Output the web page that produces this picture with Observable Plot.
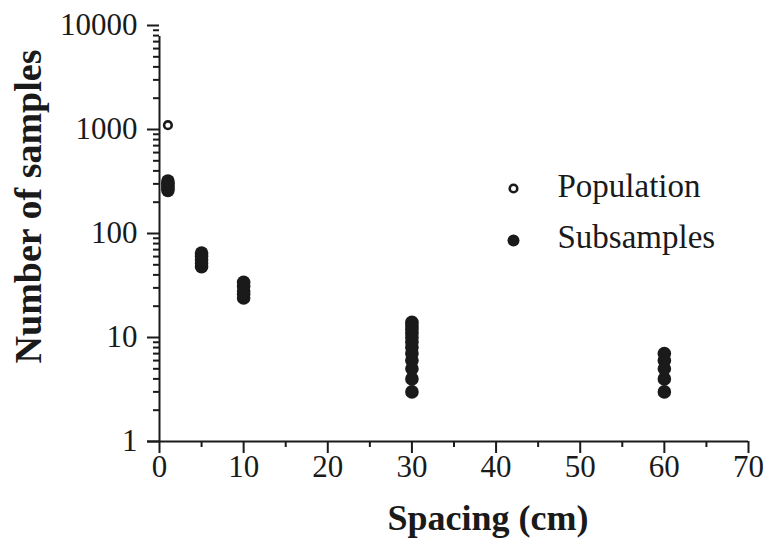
<!DOCTYPE html>
<html>
<head>
<meta charset="utf-8">
<script src="https://cdn.jsdelivr.net/npm/d3@7"></script>
<script src="https://cdn.jsdelivr.net/npm/@observablehq/plot@0.6"></script>
<style>
  html, body { margin: 0; padding: 0; background: #fff; }
  #chart { width: 780px; height: 542px; }
</style>
</head>
<body>
<div id="chart"></div>
<script>
// ---- data ----
const popSpacing = [1];
const popCount = [1100];

const subSpacing = [
  1, 1, 1, 1, 1,
  5, 5, 5, 5, 5,
  10, 10, 10, 10, 10,
  30, 30, 30, 30, 30, 30, 30, 30, 30, 30, 30, 30,
  60, 60, 60, 60, 60
];
const subCount = [
  260, 275, 290, 305, 320,
  48, 52, 56, 60, 65,
  24, 26, 28, 31, 34,
  3, 4, 5, 6, 7, 8, 9, 10, 11, 12, 13, 14,
  3, 4, 5, 6, 7
];

const xTicks = [0, 10, 20, 30, 40, 50, 60, 70];
const xMinorTicks = [5, 15, 25, 35, 45, 55, 65];
const yTicks = [1, 10, 100, 1000, 10000];
const yMinorTicks = [];
for (const d of [1, 10, 100, 1000]) for (let k = 2; k <= 9; k++) yMinorTicks.push(d * k);

const xLabel = "Spacing (cm)";
const yLabel = "Number of samples";
const legendLabels = ["Population", "Subsamples"];

// ---- build tables ----
const population = popSpacing.map((s, i) => ({spacing: s, count: popCount[i]}));
const subsamples = subSpacing.map((s, i) => ({spacing: s, count: subCount[i]}));

const ink = "#1a1a1a";
const serif = "'Liberation Serif', 'Times New Roman', serif";

const chart = Plot.plot({
  width: 780,
  height: 542,
  marginLeft: 159,
  marginRight: 32,
  marginTop: 25,
  marginBottom: 101,
  style: {fontFamily: serif, fontSize: "31px", color: ink, background: "#fff"},
  x: {domain: [0, 70]},
  y: {type: "log", domain: [1, 10000]},
  marks: [
    // axis lines (crossing slightly past each other)
    Plot.ruleY([1], {x1: 0, x2: 70, insetLeft: -12, stroke: ink, strokeWidth: 2}),
    Plot.ruleX([0], {y1: 1, y2: 10000, insetBottom: -11, stroke: ink, strokeWidth: 2}),
    // x axis
    Plot.axisX(xTicks, {tickSize: 12, tickPadding: 1, strokeWidth: 2, stroke: ink, fill: ink,
      label: null, fontSize: 31, fontFamily: serif, tickFormat: d => String(d)}),
    Plot.axisX(xMinorTicks, {tickSize: 6, strokeWidth: 2, stroke: ink, text: null, label: null}),
    // y axis
    Plot.axisY(yTicks, {tickSize: 12, tickPadding: 10, strokeWidth: 2, stroke: ink, fill: ink,
      label: null, fontSize: 31, fontFamily: serif, tickFormat: d => String(d)}),
    Plot.axisY(yMinorTicks, {tickSize: 6, strokeWidth: 2, stroke: ink, text: null, label: null}),
    // data
    Plot.dot(subsamples, {x: "spacing", y: "count", r: 6.8, fill: ink, stroke: "none"}),
    Plot.dot(population, {x: "spacing", y: "count", r: 3.8, fill: "#fff", stroke: ink, strokeWidth: 2.6}),
    // legend
    Plot.dot([legendLabels[0]], {frameAnchor: "top-left", dx: 354, dy: 163, r: 3.8, fill: "#fff", stroke: ink, strokeWidth: 2.6}),
    Plot.dot([legendLabels[1]], {frameAnchor: "top-left", dx: 354, dy: 215, r: 6, fill: ink, stroke: "none"}),
    Plot.text([legendLabels[0]], {frameAnchor: "top-left", dx: 398, dy: 161, text: d => d,
      textAnchor: "start", lineAnchor: "middle", fontSize: 33, fontFamily: serif, fill: ink}),
    Plot.text([legendLabels[1]], {frameAnchor: "top-left", dx: 398, dy: 212, text: d => d,
      textAnchor: "start", lineAnchor: "middle", fontSize: 33, fontFamily: serif, fill: ink}),
    // axis titles
    Plot.text([xLabel], {frameAnchor: "bottom", dx: 34, dy: 77, text: d => d,
      textAnchor: "middle", lineAnchor: "middle", fontSize: 36, fontWeight: "bold", fontFamily: serif, fill: ink}),
    Plot.text([yLabel], {frameAnchor: "left", dx: -131, dy: -27, rotate: -90, text: d => d,
      textAnchor: "middle", lineAnchor: "middle", fontSize: 38, fontWeight: "bold", fontFamily: serif, fill: ink})
  ]
});

document.getElementById("chart").appendChild(chart);
</script>
</body>
</html>
